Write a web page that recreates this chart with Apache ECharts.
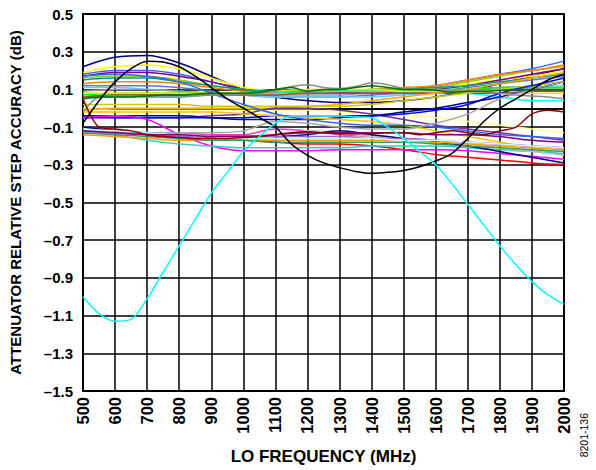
<!DOCTYPE html>
<html>
<head>
<meta charset="utf-8">
<script src="https://cdn.jsdelivr.net/npm/echarts@6/dist/echarts.min.js"></script>
<style>
html,body{margin:0;padding:0;background:#fff;}
#chart{width:596px;height:470px;}
</style>
</head>
<body>
<div id="chart"></div>
<script>
// ---------- axes / ticks ----------
const X_TICKS = [500,600,700,800,900,1000,1100,1200,1300,1400,1500,1600,1700,1800,1900,2000];
const Y_TICKS = [-1.5,-1.3,-1.1,-0.9,-0.7,-0.5,-0.3,-0.1,0.1,0.3,0.5];
// frequencies for the 100 MHz sampled curves
const FREQ_100 = [500,600,700,800,900,1000,1100,1200,1300,1400,1500,1600,1700,1800,1900,2000];
// frequencies for the 50 MHz sampled curves
const FREQ_50 = [500,550,600,650,700,750,800,850,900,950,1000,1050,1100,1150,1200,1250,1300,1350,1400,1450,1500,1550,1600,1650,1700,1750,1800,1850,1900,1950,2000];

// ---------- series values (dB), 100 MHz steps ----------
const navyTop     = [0.22,0.27,0.28,0.24,0.17,0.10,0.06,0.04,0.03,0.03,0.04,0.06,0.09,0.13,0.17,0.21];
const yellowTop   = [0.19,0.22,0.23,0.21,0.16,0.11,0.09,0.08,0.09,0.10,0.10,0.11,0.13,0.15,0.17,0.20];
const royalTop    = [0.18,0.20,0.20,0.18,0.14,0.10,0.08,0.08,0.08,0.09,0.10,0.12,0.15,0.18,0.21,0.25];
const purpleTop   = [0.17,0.19,0.19,0.17,0.14,0.10,0.08,0.08,0.08,0.08,0.09,0.10,0.12,0.15,0.18,0.21];
const oliveTop    = [0.16,0.17,0.17,0.15,0.12,0.10,0.09,0.09,0.09,0.10,0.10,0.11,0.14,0.17,0.20,0.22];
const tealTop     = [0.15,0.16,0.16,0.14,0.12,0.10,0.09,0.09,0.09,0.09,0.10,0.11,0.12,0.14,0.16,0.18];
const orangeTop   = [0.13,0.14,0.14,0.13,0.11,0.09,0.08,0.08,0.09,0.10,0.11,0.12,0.15,0.18,0.20,0.23];
const slateTop    = [0.12,0.12,0.12,0.11,0.09,0.07,0.06,0.06,0.06,0.07,0.08,0.09,0.11,0.13,0.15,0.17];
const skyTop      = [0.11,0.11,0.10,0.09,0.08,0.07,0.06,0.06,0.06,0.06,0.07,0.08,0.09,0.10,0.11,0.12];
const silverTop   = [0.09,0.10,0.10,0.09,0.08,0.07,0.07,0.07,0.07,0.08,0.08,0.09,0.10,0.11,0.12,0.14];
const lime        = [0.07,0.08,0.08,0.08,0.08,0.08,0.09,0.09,0.09,0.10,0.10,0.10,0.10,0.11,0.11,0.11];
const green       = [0.06,0.07,0.07,0.07,0.07,0.08,0.08,0.09,0.09,0.09,0.09,0.09,0.10,0.10,0.10,0.10];
const cyanUp      = [0.05,0.06,0.06,0.06,0.07,0.07,0.08,0.08,0.09,0.09,0.09,0.09,0.08,0.06,0.04,0.04];
const yellowMid   = [0.08,0.08,0.08,0.08,0.08,0.08,0.09,0.10,0.10,0.10,0.09,0.09,0.08,0.08,0.08,0.08];
const brownMid    = [0.06,0.07,0.07,0.07,0.07,0.07,0.07,0.08,0.08,0.08,0.08,0.08,0.08,0.08,0.09,0.09];
const lightYellow = [0.00,-0.01,-0.01,-0.01,-0.01,-0.01,-0.01,-0.01,-0.02,-0.03,-0.04,-0.05,-0.07,-0.09,-0.11,-0.13];
const orangeMid   = [-0.01,0.00,0.00,0.00,0.00,0.00,0.00,0.01,0.02,0.04,0.06,0.08,0.10,0.13,0.16,0.19];
const ygMid       = [0.02,0.02,0.02,0.02,0.01,0.01,0.01,0.01,0.01,0.02,0.04,0.06,0.08,0.10,0.12,0.14];
const purpleMid   = [-0.04,-0.05,-0.05,-0.05,-0.04,-0.03,0.00,0.00,-0.01,-0.03,-0.06,-0.09,-0.11,-0.13,-0.15,-0.17];
const blueMid     = [-0.05,-0.05,-0.05,-0.05,-0.05,-0.05,-0.04,-0.04,-0.04,-0.04,-0.03,-0.01,0.02,0.08,0.12,0.16];
const navyMid     = [-0.04,-0.04,-0.04,-0.04,-0.05,-0.06,-0.06,-0.06,-0.05,-0.04,-0.02,0.00,0.03,0.06,0.10,0.14];
const goldMid     = [-0.02,-0.02,-0.02,-0.02,-0.02,-0.03,-0.04,-0.05,-0.06,-0.07,-0.09,-0.12,-0.15,-0.18,-0.21,-0.25];
const royalDown   = [0.17,0.18,0.17,0.14,0.08,0.02,-0.03,-0.06,-0.08,-0.09,-0.09,-0.10,-0.12,-0.14,-0.15,-0.16];
const red         = [-0.13,-0.13,-0.14,-0.15,-0.16,-0.17,-0.18,-0.19,-0.19,-0.20,-0.22,-0.245,-0.26,-0.275,-0.29,-0.30];
const magentaLow  = [-0.05,-0.04,-0.06,-0.14,-0.20,-0.225,-0.225,-0.225,-0.22,-0.22,-0.22,-0.22,-0.225,-0.24,-0.255,-0.27];
const magentaUp   = [-0.10,-0.12,-0.13,-0.13,-0.14,-0.14,-0.11,-0.12,-0.14,-0.15,-0.16,-0.17,-0.18,-0.19,-0.20,-0.21];
const turquoise   = [-0.10,-0.14,-0.17,-0.19,-0.20,-0.21,-0.21,-0.21,-0.21,-0.20,-0.20,-0.20,-0.21,-0.22,-0.23,-0.24];
const grayLow     = [-0.13,-0.13,-0.13,-0.13,-0.13,-0.12,-0.07,-0.08,-0.10,-0.11,-0.11,-0.08,-0.03,0.05,0.10,0.14];
const grayLow2    = [-0.12,-0.13,-0.14,-0.15,-0.16,-0.17,-0.16,-0.12,-0.13,-0.15,-0.16,-0.17,-0.19,-0.21,-0.23,-0.25];
const navyLow     = [-0.10,-0.12,-0.13,-0.14,-0.15,-0.15,-0.15,-0.14,-0.12,-0.14,-0.16,-0.18,-0.20,-0.23,-0.26,-0.29];
const orangeLow   = [-0.14,-0.15,-0.16,-0.17,-0.17,-0.17,-0.17,-0.17,-0.17,-0.17,-0.17,-0.18,-0.19,-0.20,-0.21,-0.22];
const seaGreenLow = [-0.13,-0.14,-0.15,-0.16,-0.17,-0.17,-0.18,-0.18,-0.18,-0.18,-0.18,-0.19,-0.20,-0.21,-0.22,-0.23];
const violetLow   = [-0.12,-0.13,-0.14,-0.15,-0.15,-0.15,-0.15,-0.15,-0.15,-0.16,-0.16,-0.17,-0.18,-0.19,-0.20,-0.21];
const paleCyanLow = [-0.11,-0.12,-0.13,-0.14,-0.15,-0.16,-0.16,-0.16,-0.16,-0.16,-0.17,-0.17,-0.18,-0.19,-0.20,-0.21];
const purpleLow   = [-0.12,-0.13,-0.14,-0.14,-0.15,-0.15,-0.14,-0.13,-0.13,-0.13,-0.13,-0.14,-0.14,-0.15,-0.17,-0.18];

// ---------- series values (dB), 50 MHz steps ----------
const grayBumpy = [-0.02,0.06,0.065,0.065,0.06,0.06,0.06,0.065,0.07,0.07,0.075,0.08,0.09,0.115,0.125,0.11,0.105,0.115,0.135,0.125,0.105,0.10,0.10,0.09,0.09,0.085,0.08,0.07,0.065,0.06,0.05];
const darkGreen = [0.05,0.06,0.06,0.06,0.065,0.07,0.07,0.075,0.08,0.08,0.08,0.085,0.10,0.11,0.09,0.10,0.10,0.11,0.12,0.11,0.10,0.10,0.095,0.085,0.09,0.09,0.095,0.10,0.10,0.10,0.10];
const maroon    = [0.05,-0.10,-0.11,-0.12,-0.14,-0.15,-0.155,-0.16,-0.16,-0.16,-0.155,-0.15,-0.14,-0.13,-0.125,-0.13,-0.135,-0.135,-0.135,-0.13,-0.13,-0.14,-0.13,-0.12,-0.13,-0.14,-0.12,-0.10,-0.03,-0.01,-0.02];
const blackCurve = [-0.08,0.04,0.14,0.21,0.25,0.245,0.22,0.17,0.11,0.05,0.00,-0.05,-0.10,-0.19,-0.25,-0.29,-0.315,-0.335,-0.345,-0.34,-0.33,-0.31,-0.28,-0.24,-0.16,-0.07,0.00,0.05,0.10,0.15,0.18];
const cyanDip   = [-1.00,-1.09,-1.13,-1.12,-1.01,-0.87,-0.73,-0.59,-0.45,-0.34,-0.23,-0.15,-0.08,-0.04,-0.04,-0.04,-0.04,-0.045,-0.05,-0.10,-0.16,-0.23,-0.30,-0.40,-0.51,-0.62,-0.73,-0.83,-0.92,-0.99,-1.04];

const SERIES_100 = [
  ['#000080', navyTop], ['#FFFF00', yellowTop], ['#3366FF', royalTop], ['#800080', purpleTop],
  ['#99CC00', oliveTop], ['#009999', tealTop], ['#FF8000', orangeTop], ['#6677BB', slateTop],
  ['#66CCFF', skyTop], ['#999999', silverTop], ['#00FF00', lime], ['#33CC33', green],
  ['#00FFFF', cyanUp], ['#E6E600', yellowMid], ['#A0522D', brownMid], ['#FFFF99', lightYellow],
  ['#FFA500', orangeMid], ['#CCCC00', ygMid], ['#7030A0', purpleMid], ['#0000FF', blueMid],
  ['#000099', navyMid], ['#FFC000', goldMid], ['#3366FF', royalDown], ['#FF0000', red],
  ['#FF00FF', magentaLow], ['#FF33CC', magentaUp], ['#33CCCC', turquoise], ['#A6A6A6', grayLow],
  ['#BFBFBF', grayLow2], ['#000080', navyLow], ['#FF9900', orangeLow], ['#339966', seaGreenLow],
  ['#9966CC', violetLow], ['#CCFFFF', paleCyanLow], ['#800080', purpleLow]
];
const SERIES_50 = [
  ['#8C8C8C', grayBumpy], ['#007000', darkGreen], ['#8B0000', maroon],
  ['#000000', blackCurve], ['#00FFFF', cyanDip]
];

const FONT = '"Liberation Sans", Arial, Helvetica, sans-serif';
function fmtY(v) {
  const r = Math.round(v * 10) / 10;
  if (r < 0) return '\u2013' + Math.abs(r).toFixed(1);
  return r.toFixed(1);
}

const series = [];
SERIES_100.forEach(([c, vals]) => series.push({
  type: 'line', data: FREQ_100.map((f, i) => [f, vals[i]]), showSymbol: false,
  smooth: 0.35, lineStyle: { color: c, width: 1.5 }, itemStyle: { color: c }, silent: true, animation: false
}));
SERIES_50.forEach(([c, vals]) => series.push({
  type: 'line', data: FREQ_50.map((f, i) => [f, vals[i]]), showSymbol: false,
  smooth: 0.3, lineStyle: { color: c, width: 1.5 }, itemStyle: { color: c }, silent: true, animation: false
}));

const chart = echarts.init(document.getElementById('chart'), null, { renderer: 'svg' });
chart.setOption({
  animation: false,
  backgroundColor: '#fff',
  grid: { left: 82, right: 32, top: 14, bottom: 76, show: true, borderColor: '#000', borderWidth: 2, backgroundColor: 'transparent' },
  xAxis: {
    type: 'value', min: 500, max: 2000, interval: 100,
    axisLine: { show: true, lineStyle: { color: '#000', width: 2 } },
    axisTick: { show: false },
    splitLine: { show: true, lineStyle: { color: '#000', width: 1.5 } },
    axisLabel: { rotate: 90, margin: 6, color: '#000', fontFamily: FONT, fontWeight: 'bold', fontSize: 16.5,
      formatter: v => String(v) },
    name: 'LO FREQUENCY (MHz)', nameLocation: 'middle', nameGap: 57,
    nameTextStyle: { color: '#000', fontFamily: FONT, fontWeight: 'bold', fontSize: 17 }
  },
  yAxis: {
    type: 'value', min: -1.5, max: 0.5, interval: 0.2,
    axisLine: { show: true, lineStyle: { color: '#000', width: 2 } },
    axisTick: { show: false },
    splitLine: { show: true, lineStyle: { color: '#000', width: 1.5 } },
    axisLabel: { margin: 10, color: '#000', fontFamily: FONT, fontWeight: 'bold', fontSize: 15, formatter: fmtY },
    name: 'ATTENUATOR RELATIVE STEP ACCURACY (dB)', nameLocation: 'middle', nameGap: 60, nameRotate: 90,
    nameTextStyle: { color: '#000', fontFamily: FONT, fontWeight: 'bold', fontSize: 15 }
  },
  graphic: [{
    type: 'text', left: 578, top: 413, rotation: Math.PI / 2,
    style: { text: '8201-136', fontFamily: FONT, fontSize: 10.5, fill: '#000' }
  }],
  series: series
});
</script>
</body>
</html>
